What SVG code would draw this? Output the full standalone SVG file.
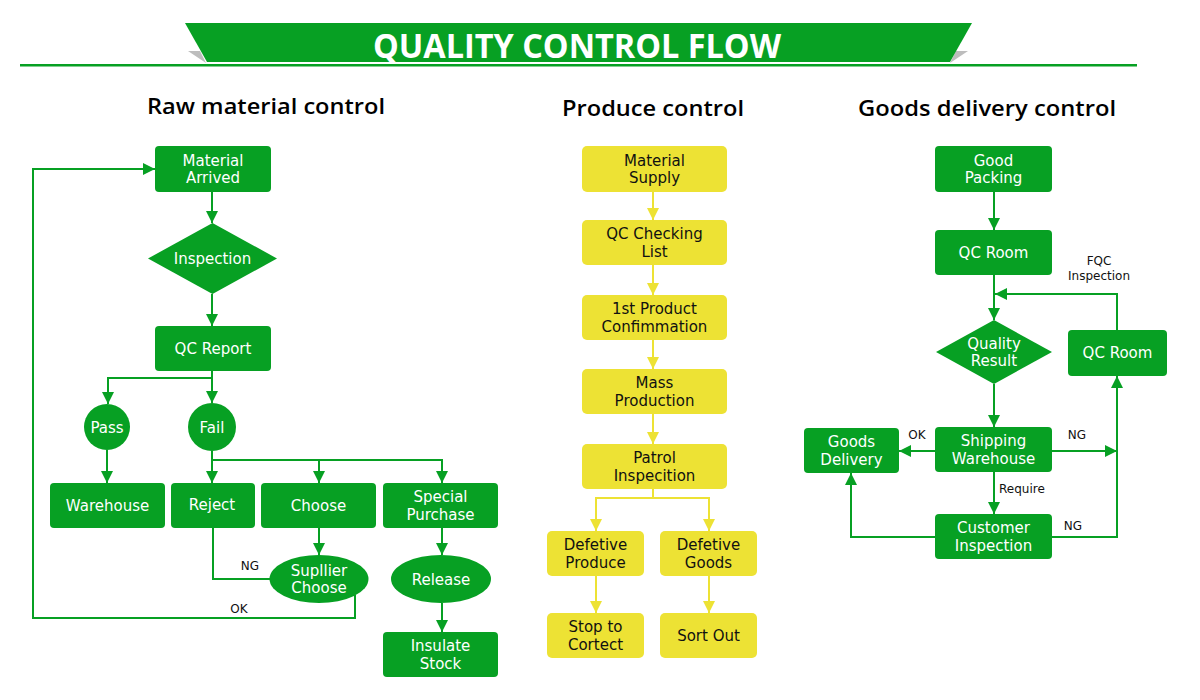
<svg xmlns="http://www.w3.org/2000/svg" width="1200" height="700" viewBox="0 0 1200 700">
<defs>
<marker id="ag" markerUnits="userSpaceOnUse" markerWidth="12" markerHeight="12" refX="12" refY="6" orient="auto"><path d="M0,0 L12,6 L0,12 z" fill="#07A023"/></marker>
<marker id="ay" markerUnits="userSpaceOnUse" markerWidth="12" markerHeight="12" refX="12" refY="6" orient="auto"><path d="M0,0 L12,6 L0,12 z" fill="#EDE234"/></marker>
</defs>
<style>
.g{fill:#07A023}
.y{fill:#EDE234}
.t{font-family:"DejaVu Sans","Liberation Sans",sans-serif;font-size:15px;text-anchor:middle}
.w{fill:#fff}
.k{fill:#111}
.lbl{font-family:"DejaVu Sans","Liberation Sans",sans-serif;font-size:12px;fill:#111;text-anchor:middle}
.h{font-family:"Open Sans","Liberation Sans",sans-serif;font-size:22px;font-weight:600;fill:#000}
.cg{fill:none;stroke:#07A023;stroke-width:2}
.cy{fill:none;stroke:#EDE234;stroke-width:2}
</style>
<rect width="1200" height="700" fill="#fff"/>
<g id="title">
<polygon points="188,51 200,51 206,63" fill="#BDBDBD"/>
<polygon points="968,51 956,51 950,63" fill="#BDBDBD"/>
<rect x="20" y="64" width="1117" height="2.5" fill="#07A023"/>
<polygon points="185,23 972,23 950,62 207,62" fill="#07A023"/>
<text x="577" y="58" font-family="Open Sans, Liberation Sans, sans-serif" font-size="34" font-weight="bold" fill="#fff" text-anchor="middle" textLength="408" lengthAdjust="spacingAndGlyphs">QUALITY CONTROL FLOW</text>
</g>
<text class="h" x="147" y="114" textLength="238" lengthAdjust="spacingAndGlyphs">Raw material control</text>
<text class="h" x="562" y="116" textLength="182" lengthAdjust="spacingAndGlyphs">Produce control</text>
<text class="h" x="858" y="116" textLength="258" lengthAdjust="spacingAndGlyphs">Goods delivery control</text>

<g id="connectors">
<path class="cg" d="M212,192 V223" marker-end="url(#ag)"/>
<path class="cg" d="M212,294 V326" marker-end="url(#ag)"/>
<path class="cg" d="M212,371 V378 H108 V404" marker-end="url(#ag)"/>
<path class="cg" d="M212,378 V403" marker-end="url(#ag)"/>
<path class="cg" d="M107,450 V483" marker-end="url(#ag)"/>
<path class="cg" d="M212,451 V483" marker-end="url(#ag)"/>
<path class="cg" d="M212,460 H442 V483" marker-end="url(#ag)"/>
<path class="cg" d="M319,460 V483" marker-end="url(#ag)"/>
<path class="cg" d="M319,528 V555" marker-end="url(#ag)"/>
<path class="cg" d="M442,528 V555" marker-end="url(#ag)"/>
<path class="cg" d="M442,603 V632" marker-end="url(#ag)"/>
<path class="cg" d="M213,528 V579 H270"/>
<path class="cg" d="M355,595 V618 H33 V169 H155" marker-end="url(#ag)"/>

<path class="cy" d="M653,192 V220" marker-end="url(#ay)"/>
<path class="cy" d="M653,265 V295" marker-end="url(#ay)"/>
<path class="cy" d="M653,340 V369" marker-end="url(#ay)"/>
<path class="cy" d="M653,414 V444" marker-end="url(#ay)"/>
<path class="cy" d="M653,489 V498 H596 V531" marker-end="url(#ay)"/>
<path class="cy" d="M653,498 H709 V531" marker-end="url(#ay)"/>
<path class="cy" d="M596,576 V613" marker-end="url(#ay)"/>
<path class="cy" d="M709,576 V613" marker-end="url(#ay)"/>

<path class="cg" d="M994,192 V230" marker-end="url(#ag)"/>
<path class="cg" d="M994,275 V320" marker-end="url(#ag)"/>
<path class="cg" d="M1117,330 V294 H995" marker-end="url(#ag)"/>
<path class="cg" d="M994,384 V427" marker-end="url(#ag)"/>
<path class="cg" d="M935,451 H899" marker-end="url(#ag)"/>
<path class="cg" d="M1052,451 H1117" marker-end="url(#ag)"/>
<path class="cg" d="M994,472 V514" marker-end="url(#ag)"/>
<path class="cg" d="M1052,537 H1117 V376" marker-end="url(#ag)"/>
<path class="cg" d="M935,537 H851 V473" marker-end="url(#ag)"/>

<text class="lbl" x="250" y="570">NG</text>
<text class="lbl" x="239" y="613">OK</text>
<text class="lbl" x="1099" y="265">FQC</text>
<text class="lbl" x="1099" y="279.5">Inspection</text>
<text class="lbl" x="917" y="439">OK</text>
<text class="lbl" x="1077" y="439">NG</text>
<text class="lbl" x="999" y="493" style="text-anchor:start">Require</text>
<text class="lbl" x="1073" y="530">NG</text>
</g>

<g id="material-arrived"><rect class="g" x="155" y="146" width="116" height="46" rx="4"/><text class="t w" x="213" y="165.5">Material</text><text class="t w" x="213" y="183.1">Arrived</text></g>
<g id="inspection"><polygon class="g" points="212.5,223 277,258.5 212.5,294 148,258.5"/><text class="t w" x="212.5" y="264">Inspection</text></g>
<g id="qc-report"><rect class="g" x="155" y="326" width="116" height="45" rx="4"/><text class="t w" x="213" y="354">QC Report</text></g>
<g id="pass"><circle class="g" cx="107" cy="427" r="23"/><text class="t w" x="107" y="432.5">Pass</text></g>
<g id="fail"><circle class="g" cx="212" cy="427" r="24"/><text class="t w" x="212" y="432.5">Fail</text></g>
<g id="warehouse"><rect class="g" x="50" y="483" width="115" height="45" rx="4"/><text class="t w" x="107.5" y="511">Warehouse</text></g>
<g id="reject"><rect class="g" x="171" y="483" width="84" height="45" rx="4"/><text class="t w" x="212" y="510">Reject</text></g>
<g id="choose"><rect class="g" x="261" y="483" width="115" height="45" rx="4"/><text class="t w" x="318.5" y="511">Choose</text></g>
<g id="special-purchase"><rect class="g" x="383" y="483" width="115" height="45" rx="4"/><text class="t w" x="440.5" y="502">Special</text><text class="t w" x="440.5" y="519.6">Purchase</text></g>
<g id="supplier-choose"><ellipse class="g" cx="319" cy="579" rx="49.5" ry="24"/><text class="t w" x="319" y="575.5">Supllier</text><text class="t w" x="319" y="593.1">Choose</text></g>
<g id="release"><ellipse class="g" cx="441" cy="579" rx="50" ry="24"/><text class="t w" x="441" y="584.5">Release</text></g>
<g id="insulate-stock"><rect class="g" x="383" y="632" width="115" height="45" rx="4"/><text class="t w" x="440.5" y="651">Insulate</text><text class="t w" x="440.5" y="668.6">Stock</text></g>

<g id="material-supply"><rect class="y" x="582" y="146" width="145" height="46" rx="5"/><text class="t k" x="654.5" y="165.5">Material</text><text class="t k" x="654.5" y="183.1">Supply</text></g>
<g id="qc-checking-list"><rect class="y" x="582" y="220" width="145" height="45" rx="5"/><text class="t k" x="654.5" y="239">QC Checking</text><text class="t k" x="654.5" y="256.6">List</text></g>
<g id="first-product"><rect class="y" x="582" y="295" width="145" height="45" rx="5"/><text class="t k" x="654.5" y="314">1st Product</text><text class="t k" x="654.5" y="331.6">Confimmation</text></g>
<g id="mass-production"><rect class="y" x="582" y="369" width="145" height="45" rx="5"/><text class="t k" x="654.5" y="388">Mass</text><text class="t k" x="654.5" y="405.6">Production</text></g>
<g id="patrol-inspecition"><rect class="y" x="582" y="444" width="145" height="45" rx="5"/><text class="t k" x="654.5" y="463">Patrol</text><text class="t k" x="654.5" y="480.6">Inspecition</text></g>
<g id="defetive-produce"><rect class="y" x="547" y="531" width="97" height="45" rx="5"/><text class="t k" x="595.5" y="550">Defetive</text><text class="t k" x="595.5" y="567.6">Produce</text></g>
<g id="defetive-goods"><rect class="y" x="660" y="531" width="97" height="45" rx="5"/><text class="t k" x="708.5" y="550">Defetive</text><text class="t k" x="708.5" y="567.6">Goods</text></g>
<g id="stop-to-cortect"><rect class="y" x="547" y="613" width="97" height="45" rx="5"/><text class="t k" x="595.5" y="632">Stop to</text><text class="t k" x="595.5" y="649.6">Cortect</text></g>
<g id="sort-out"><rect class="y" x="660" y="613" width="97" height="45" rx="5"/><text class="t k" x="708.5" y="641">Sort Out</text></g>

<g id="good-packing"><rect class="g" x="935" y="146" width="117" height="46" rx="4"/><text class="t w" x="993.5" y="165.5">Good</text><text class="t w" x="993.5" y="183.1">Packing</text></g>
<g id="qc-room-1"><rect class="g" x="935" y="230" width="117" height="45" rx="4"/><text class="t w" x="993.5" y="258">QC Room</text></g>
<g id="quality-result"><polygon class="g" points="994,320 1052,352 994,384 936,352"/><text class="t w" x="994" y="348.5">Quality</text><text class="t w" x="994" y="366.1">Result</text></g>
<g id="qc-room-2"><rect class="g" x="1068" y="330" width="99" height="46" rx="4"/><text class="t w" x="1117.5" y="358">QC Room</text></g>
<g id="shipping-warehouse"><rect class="g" x="935" y="427" width="117" height="45" rx="4"/><text class="t w" x="993.5" y="446">Shipping</text><text class="t w" x="993.5" y="463.6">Warehouse</text></g>
<g id="goods-delivery"><rect class="g" x="804" y="428" width="95" height="45" rx="4"/><text class="t w" x="851.5" y="447">Goods</text><text class="t w" x="851.5" y="464.6">Delivery</text></g>
<g id="customer-inspection"><rect class="g" x="935" y="514" width="117" height="45" rx="4"/><text class="t w" x="993.5" y="533">Customer</text><text class="t w" x="993.5" y="550.6">Inspection</text></g>
</svg>
